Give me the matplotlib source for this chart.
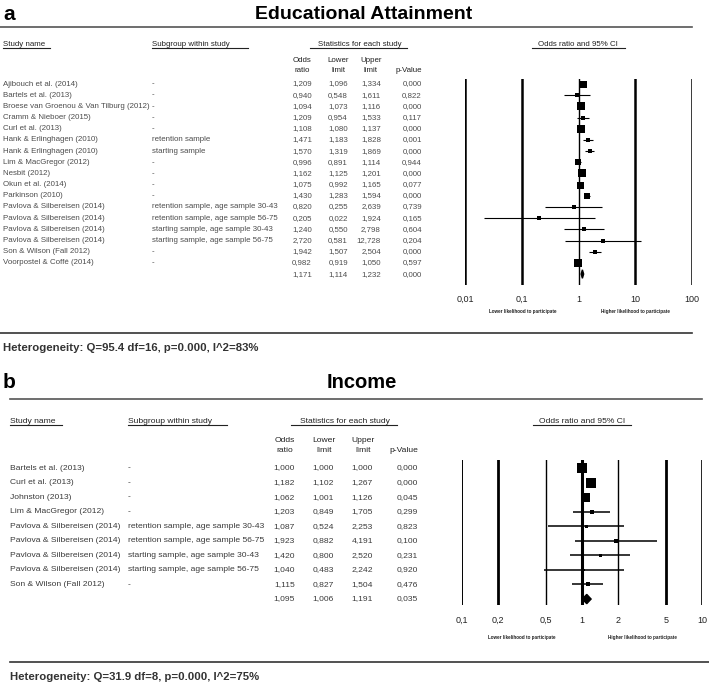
#!/usr/bin/env python
"""Two stacked forest plots: educational attainment and income vs. participation."""

from __future__ import annotations

import matplotlib

matplotlib.use("Agg")
import matplotlib.pyplot as plt
from matplotlib.patches import Polygon

W, H = 709, 685
FONT = "Liberation Sans"
plt.rcParams["font.family"] = [FONT, "DejaVu Sans"]

# ---- panel a: educational attainment ----
EDU_STUDIES = [
    "Ajibouch et al. (2014)",
    "Bartels et al. (2013)",
    "Broese van Groenou & Van Tilburg (2012)",
    "Cramm & Nieboer (2015)",
    "Curl et al. (2013)",
    "Hank & Erlinghagen (2010)",
    "Hank & Erlinghagen (2010)",
    "Lim & MacGregor (2012)",
    "Nesbit (2012)",
    "Okun et al. (2014)",
    "Parkinson (2010)",
    "Pavlova & Silbereisen (2014)",
    "Pavlova & Silbereisen (2014)",
    "Pavlova & Silbereisen (2014)",
    "Pavlova & Silbereisen (2014)",
    "Son & Wilson (Fall 2012)",
    "Voorpostel & Coffé (2014)",
]
EDU_SUBGROUPS = [
    "-", "-", "-", "-", "-",
    "retention sample",
    "starting sample",
    "-", "-", "-", "-",
    "retention sample, age sample 30-43",
    "retention sample, age sample 56-75",
    "starting sample, age sample 30-43",
    "starting sample, age sample 56-75",
    "-", "-",
]
EDU_OR = [1.209, 0.940, 1.094, 1.209, 1.108, 1.471, 1.570, 0.996, 1.162, 1.075,
          1.430, 0.820, 0.205, 1.240, 2.720, 1.942, 0.982]
EDU_LOWER = [1.096, 0.548, 1.073, 0.954, 1.080, 1.183, 1.319, 0.891, 1.125, 0.992,
             1.283, 0.255, 0.022, 0.550, 0.581, 1.507, 0.919]
EDU_UPPER = [1.334, 1.611, 1.116, 1.533, 1.137, 1.828, 1.869, 1.114, 1.201, 1.165,
             1.594, 2.639, 1.924, 2.798, 12.728, 2.504, 1.050]
EDU_P = [0.000, 0.822, 0.000, 0.117, 0.000, 0.001, 0.000, 0.944, 0.000, 0.077,
         0.000, 0.739, 0.165, 0.604, 0.204, 0.000, 0.597]
EDU_WEIGHT = [7, 4, 8, 4, 8.5, 4, 5, 6, 8, 7, 6.5, 4, 4, 4, 4, 5, 8]
EDU_SUMMARY = [1.171, 1.114, 1.232, 0.000]
EDU_TICKS = [0.01, 0.1, 1, 10, 100]
EDU_TICK_LABELS = ["0,01", "0,1", "1", "10", "100"]
EDU_HET = "Heterogeneity: Q=95.4 df=16, p=0.000, I^2=83%"

# ---- panel b: income ----
INC_STUDIES = [
    "Bartels et al. (2013)",
    "Curl et al. (2013)",
    "Johnston (2013)",
    "Lim & MacGregor (2012)",
    "Pavlova & Silbereisen (2014)",
    "Pavlova & Silbereisen (2014)",
    "Pavlova & Silbereisen (2014)",
    "Pavlova & Silbereisen (2014)",
    "Son & Wilson (Fall 2012)",
]
INC_SUBGROUPS = [
    "-", "-", "-", "-",
    "retention sample, age sample 30-43",
    "retention sample, age sample 56-75",
    "starting sample, age sample 30-43",
    "starting sample, age sample 56-75",
    "-",
]
INC_OR = [1.000, 1.182, 1.062, 1.203, 1.087, 1.923, 1.420, 1.040, 1.115]
INC_LOWER = [1.000, 1.102, 1.001, 0.849, 0.524, 0.882, 0.800, 0.483, 0.827]
INC_UPPER = [1.000, 1.267, 1.126, 1.705, 2.253, 4.191, 2.520, 2.242, 1.504]
INC_P = [0.000, 0.000, 0.045, 0.299, 0.823, 0.100, 0.231, 0.920, 0.476]
INC_WEIGHT = [10, 10, 9, 4, 3, 4, 3, 2, 4.5]
INC_SUMMARY = [1.095, 1.006, 1.191, 0.035]
INC_TICKS = [0.1, 0.2, 0.5, 1, 2, 5, 10]
INC_TICK_LABELS = ["0,1", "0,2", "0,5", "1", "2", "5", "10"]
INC_HET = "Heterogeneity: Q=31.9 df=8, p=0.000, I^2=75%"

# layout in pixels (x right, y down)
LAYOUT_A = dict(
    letter="a", title="Educational Attainment", title_x=364, title_y=14, title_size=14,
    rule_top=(0, 692, 27), rule_bottom=(0, 692, 333), het_xy=(3, 348),
    header_y=44, sub_y=(60, 70), row_y0=84, row_dy=11.18,
    name_x=3, sub_x=152, col_right=[312, 348, 381, 422],
    underlines=[(3, 50), (152, 248), (310, 407), (532, 625)],
    stats_x=360, ci_x=578,
    forest=(465, 692, 79, 285), line_widths=[1.8, 1.8, 1.0, 1.8, 1.8],
    ci_lw=0.8, tick_pad=7, like_xy=((523, 311), (635, 311)),
    text_color="#4d4d4d", text_size=5.7, diamond_h=0.38,
)
LAYOUT_B = dict(
    letter="b", title="Income", title_x=362, title_y=382, title_size=14.5,
    rule_top=(10, 702, 399), rule_bottom=(10, 709, 662), het_xy=(10, 677),
    header_y=421, sub_y=(440, 450), row_y0=468, row_dy=14.56,
    name_x=10, sub_x=128, col_right=[295, 334, 373, 418],
    underlines=[(10, 62), (128, 227), (291, 397), (533, 631)],
    stats_x=345, ci_x=582,
    forest=(462, 702, 460, 605), line_widths=[1.4, 2.0, 1.0, 2.2, 1.0, 2.0, 1.2],
    ci_lw=1.1, tick_pad=8, like_xy=((522, 637), (642, 637)),
    text_color="#3a3a3a", text_size=6.1, diamond_h=0.32,
)


def fmt(value: float) -> str:
    return f"{value:.3f}".replace(".", ",")


def px_axes(fig, x0, x1, y0, y1):
    return fig.add_axes([x0 / W, 1 - y1 / H, (x1 - x0) / W, (y1 - y0) / H])


def draw_panel(fig, canvas, lay, studies, subgroups, odds, lower, upper, pvals,
               weights, summary, ticks, tick_labels, het_text):
    dark = "#222222"
    canvas.text(3, lay["title_y"], lay["letter"], fontsize=15, fontweight="bold",
                va="center", ha="left", color="black")
    canvas.text(lay["title_x"], lay["title_y"], lay["title"], fontsize=lay["title_size"],
                fontweight="bold", va="center", ha="center", color="black")
    x0, x1, y = lay["rule_top"]
    canvas.plot([x0, x1], [y, y], color="#555555", lw=1.2)
    x0, x1, y = lay["rule_bottom"]
    canvas.plot([x0, x1], [y, y], color="#333333", lw=1.2)
    canvas.text(*lay["het_xy"], het_text, fontsize=8.2, fontweight="bold",
                va="center", ha="left", color="#333333")

    # column headers
    hy = lay["header_y"]
    hs = lay["text_size"]
    canvas.text(lay["name_x"], hy, "Study name", fontsize=hs, va="center", color=dark)
    canvas.text(lay["sub_x"], hy, "Subgroup within study", fontsize=hs, va="center", color=dark)
    canvas.text(lay["stats_x"], hy, "Statistics for each study", fontsize=hs,
                va="center", ha="center", color=dark)
    canvas.text(lay["ci_x"], hy, "Odds ratio and 95% CI", fontsize=hs,
                va="center", ha="center", color=dark)
    for ux0, ux1 in lay["underlines"]:
        canvas.plot([ux0, ux1], [hy + 4, hy + 4], color=dark, lw=0.8)
    heads = [("Odds", "ratio"), ("Lower", "limit"), ("Upper", "limit"), ("", "p-Value")]
    for xr, (top, bottom) in zip(lay["col_right"], heads):
        xc = xr - 10 if top else xr
        ha = "center" if top else "right"
        canvas.text(xc, lay["sub_y"][0], top, fontsize=hs, va="center", ha=ha, color=dark)
        canvas.text(xc, lay["sub_y"][1], bottom, fontsize=hs, va="center", ha=ha, color=dark)

    # table rows
    tc = lay["text_color"]
    for i, (name, sub, o, lo, hi, p) in enumerate(zip(studies, subgroups, odds, lower, upper, pvals)):
        ry = lay["row_y0"] + i * lay["row_dy"]
        canvas.text(lay["name_x"], ry, name, fontsize=hs, va="center", color=tc)
        canvas.text(lay["sub_x"], ry, sub, fontsize=hs, va="center", color=tc)
        for xr, v in zip(lay["col_right"], (o, lo, hi, p)):
            canvas.text(xr, ry, fmt(v), fontsize=hs, va="center", ha="right", color=tc)
    ry = lay["row_y0"] + len(studies) * lay["row_dy"]
    for xr, v in zip(lay["col_right"], summary):
        canvas.text(xr, ry, fmt(v), fontsize=hs, va="center", ha="right", color=tc)

    # forest plot
    fx0, fx1, fy0, fy1 = lay["forest"]
    ax = px_axes(fig, fx0, fx1, fy0, fy1)
    ax.set_xscale("log")
    ax.set_xlim(ticks[0], ticks[-1])
    dy = lay["row_dy"]
    ax.set_ylim((fy1 - lay["row_y0"]) / dy, (fy0 - lay["row_y0"]) / dy)
    for t, lw in zip(ticks, lay["line_widths"]):
        ax.axvline(t, color="black", lw=lw)
    for i, (o, lo, hi, w) in enumerate(zip(odds, lower, upper, weights)):
        ax.hlines(i, lo, hi, color="black", lw=lay["ci_lw"])
        ax.scatter([o], [i], marker="s", s=(w * 0.72) ** 2, color="black",
                   linewidths=0, zorder=3)
    n = len(studies)
    so, slo, shi = summary[:3]
    dh = lay["diamond_h"]
    ax.add_patch(Polygon([(slo, n), (so, n - dh), (shi, n), (so, n + dh)],
                         closed=True, color="black", zorder=3))
    ax.set_xticks(ticks)
    ax.set_xticklabels(tick_labels, fontsize=6.5, color=dark)
    ax.minorticks_off()
    ax.tick_params(axis="x", length=0, pad=lay["tick_pad"])
    ax.set_yticks([])
    for spine in ax.spines.values():
        spine.set_visible(False)
    ax.patch.set_alpha(0)

    (lx, ly), (hx, hy2) = lay["like_xy"]
    canvas.text(lx, ly, "Lower likelihood to participate", fontsize=3.3,
                fontweight="bold", ha="center", va="center", color=dark)
    canvas.text(hx, hy2, "Higher likelihood to participate", fontsize=3.3,
                fontweight="bold", ha="center", va="center", color=dark)


def main() -> None:
    fig = plt.figure(figsize=(W / 100, H / 100), dpi=100)
    canvas = fig.add_axes([0, 0, 1, 1])
    canvas.set_xlim(0, W)
    canvas.set_ylim(H, 0)
    canvas.axis("off")

    draw_panel(fig, canvas, LAYOUT_A, EDU_STUDIES, EDU_SUBGROUPS, EDU_OR, EDU_LOWER,
               EDU_UPPER, EDU_P, EDU_WEIGHT, EDU_SUMMARY, EDU_TICKS, EDU_TICK_LABELS, EDU_HET)
    draw_panel(fig, canvas, LAYOUT_B, INC_STUDIES, INC_SUBGROUPS, INC_OR, INC_LOWER,
               INC_UPPER, INC_P, INC_WEIGHT, INC_SUMMARY, INC_TICKS, INC_TICK_LABELS, INC_HET)

    fig.savefig("out.png", dpi=100)
    plt.close(fig)


if __name__ == "__main__":
    main()
